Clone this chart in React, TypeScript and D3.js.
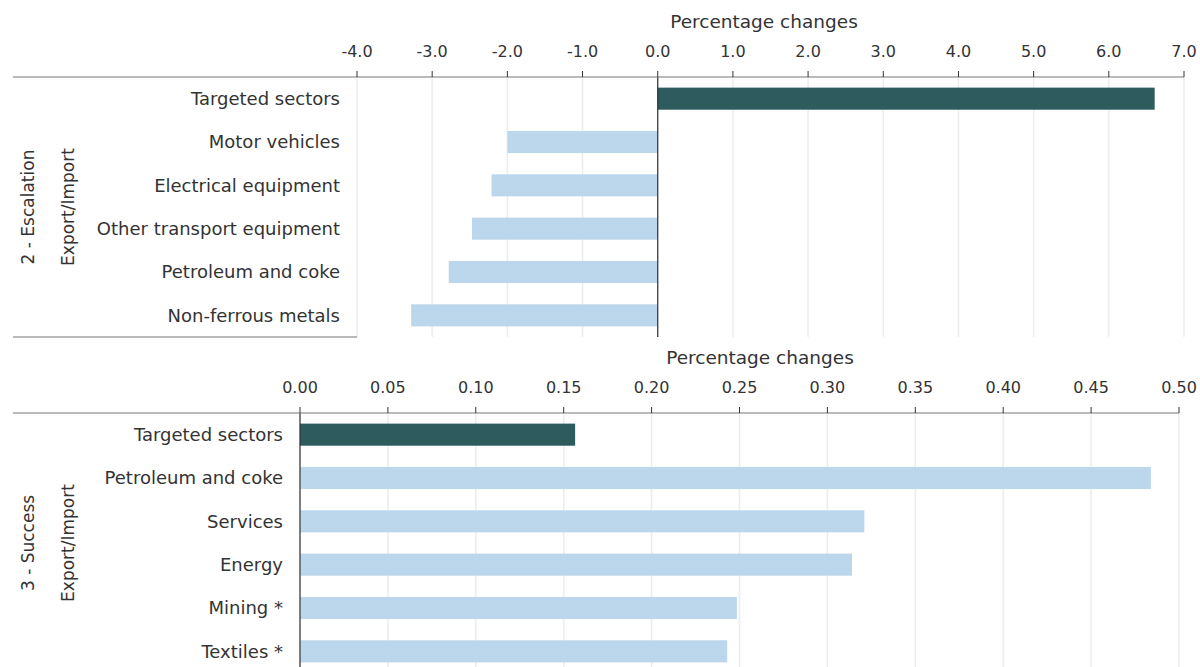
import React from "react";
import * as d3 from "d3";

const topCategories = ["Targeted sectors", "Motor vehicles", "Electrical equipment", "Other transport equipment", "Petroleum and coke", "Non-ferrous metals"];
const topValues = [6.61, -2.0, -2.21, -2.47, -2.78, -3.28];
const topTicks = [-4, -3, -2, -1, 0, 1, 2, 3, 4, 5, 6, 7];

const bottomCategories = ["Targeted sectors", "Petroleum and coke", "Services", "Energy", "Mining *", "Textiles *"];
const bottomValues = [0.1565, 0.484, 0.321, 0.314, 0.2485, 0.243];
const bottomTicks = [0, 0.05, 0.1, 0.15, 0.2, 0.25, 0.3, 0.35, 0.4, 0.45, 0.5];

const groupLabels = ["2 - Escalation", "3 - Success"];
const subLabel = "Export/Import";
const axisTitle = "Percentage changes";

const DARK = "#2e5b5e";
const LIGHT = "#bcd7ec";
const FONT = "'DejaVu Sans', sans-serif";

type PanelProps = {
  categories: string[];
  values: number[];
  ticks: number[];
  domain: [number, number];
  range: [number, number];
  top: number;
  height: number;
  fmt: (v: number) => string;
  group: string;
  titleX: number;
};

function Panel({ categories, values, ticks, domain, range, top, height, fmt, group, titleX }: PanelProps) {
  const x = d3.scaleLinear().domain(domain).range(range);
  const y = d3.scaleBand<string>().domain(categories).range([top, top + height]).paddingInner(0.49).paddingOuter(0.245);
  const x0 = x(0);
  const labelX = range[0] - 17;
  return (
    <g fontFamily={FONT}>
      {ticks.map((t) => (
        <line key={"g" + t} x1={x(t)} x2={x(t)} y1={top} y2={top + height} stroke="#ececec" strokeWidth={1.5} />
      ))}
      {values.map((v, i) => (
        <rect
          key={categories[i]}
          x={Math.min(x(v), x0)}
          width={Math.abs(x(v) - x0)}
          y={y(categories[i])}
          height={y.bandwidth()}
          fill={i === 0 ? DARK : LIGHT}
        />
      ))}
      <line x1={x0} x2={x0} y1={top} y2={top + height} stroke="#333" strokeWidth={1.2} />
      <line x1={13} x2={range[1]} y1={top} y2={top} stroke="#777" strokeWidth={1.2} />
      <line x1={13} x2={range[0]} y1={top + height} y2={top + height} stroke="#777" strokeWidth={1.2} />
      {ticks.map((t) => (
        <g key={"t" + t}>
          <line x1={x(t)} x2={x(t)} y1={top - 6} y2={top} stroke="#333" strokeWidth={1} />
          <text x={x(t)} y={top - 20} textAnchor="middle" fontSize={16} fill="#333">
            {fmt(t).replace("\u2212", "-")}
          </text>
        </g>
      ))}
      <text x={titleX} y={top - 49} textAnchor="middle" fontSize={18.5} fill="#333">
        {axisTitle}
      </text>
      {categories.map((c) => (
        <text key={"c" + c} x={labelX} y={(y(c) as number) + y.bandwidth() / 2} dy="0.35em" textAnchor="end" fontSize={18} fill="#333">
          {c}
        </text>
      ))}
      <text transform={`translate(34,${top + 130}) rotate(-90)`} textAnchor="middle" fontSize={17} fill="#333">
        {group}
      </text>
      <text transform={`translate(74,${top + 130}) rotate(-90)`} textAnchor="middle" fontSize={17} fill="#333">
        {subLabel}
      </text>
    </g>
  );
}

export default function App() {
  return (
    <div style={{ position: "absolute", left: 0, top: 0, width: 1200, height: 667, background: "#fff" }}>
      <svg width={1200} height={667} style={{ display: "block" }}>
        <Panel
          categories={topCategories}
          values={topValues}
          ticks={topTicks}
          domain={[-4, 7]}
          range={[357, 1184]}
          top={77}
          height={260}
          fmt={d3.format(".1f")}
          group={groupLabels[0]}
          titleX={764}
        />
        <Panel
          categories={bottomCategories}
          values={bottomValues}
          ticks={bottomTicks}
          domain={[0, 0.5]}
          range={[300, 1179]}
          top={413}
          height={260}
          fmt={d3.format(".2f")}
          group={groupLabels[1]}
          titleX={760}
        />
      </svg>
    </div>
  );
}
